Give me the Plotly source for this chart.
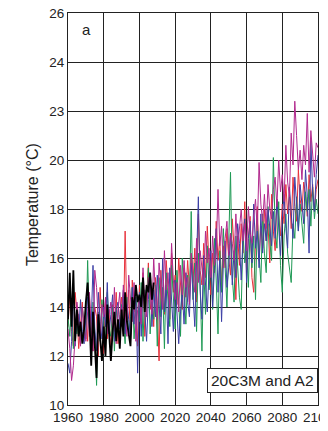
import plotly.graph_objects as go

years_model = list(range(1960, 2101))
years_obs = list(range(1960, 2009))

red = [
    13.2, 14.5, 13.0, 12.4, 14.6, 13.8, 12.3, 13.5, 14.2, 12.8,
    13.9, 12.6, 14.4, 13.1, 12.2, 14.0, 13.6, 12.0, 14.8, 13.3,
    12.1, 14.3, 12.7, 13.9, 11.9, 14.1, 13.0, 14.6, 12.5, 13.7,
    14.4, 12.9, 17.1, 13.4, 14.7, 12.6, 15.1, 13.8, 14.3, 12.4,
    14.9, 13.6, 15.4, 12.8, 14.2, 15.8, 13.9, 14.5, 13.2, 15.2,
    14.0, 11.8, 15.5, 14.3, 13.7, 15.9, 14.8, 13.5, 16.2, 14.6,
    15.3, 14.1, 16.0, 14.7, 13.9, 15.6, 14.4, 15.9, 14.8, 16.1,
    15.0, 16.4, 14.2, 17.8, 15.5, 14.9, 16.6, 15.2, 17.3, 15.7,
    14.5, 16.2, 15.4, 17.5, 15.9, 16.8, 14.8, 16.5, 15.6, 17.2,
    16.0, 15.3, 17.6, 16.4, 14.3, 16.9, 15.7, 17.4, 16.2, 18.3,
    15.5, 16.8, 17.7, 15.2, 14.6, 16.6, 18.1, 15.9, 17.3, 16.4,
    18.0, 16.7, 17.4, 15.8, 18.6, 17.1, 16.3, 18.4, 17.6, 16.9,
    18.2, 17.4, 19.0, 17.8, 18.7, 17.2, 19.3, 18.1, 17.5, 19.6,
    18.4, 17.9, 19.1, 18.6, 17.7, 19.4, 18.3, 19.0, 17.9, 18.8,
    19.2,
]

green = [
    13.6, 12.8, 14.1, 12.3, 13.4, 12.9, 13.7, 12.5, 14.0, 13.2,
    12.7, 15.9, 13.3, 12.1, 14.2, 13.0, 10.8, 13.8, 12.6, 14.3,
    13.5, 12.4, 14.6, 13.1, 12.8, 14.0, 12.2, 13.9, 13.4, 12.6,
    14.1, 13.3, 12.5, 14.4, 12.9, 13.6, 14.8, 12.7, 13.9, 14.5,
    13.4, 15.0, 12.6, 14.7, 13.8, 15.6, 12.9, 14.2, 13.5, 14.9,
    12.4, 15.2, 13.6, 14.8, 12.3, 15.4, 14.1, 13.2, 15.7, 14.4,
    13.1, 15.5, 14.0, 12.8, 16.0, 14.6, 13.3, 15.3, 14.2, 17.9,
    14.3, 15.8, 13.0, 16.2, 14.9, 12.2, 15.6, 13.7, 16.5, 14.7,
    15.9, 13.9, 16.8, 15.1, 12.9, 16.3, 14.6, 17.2, 15.4, 14.0,
    16.6, 19.5, 15.2, 14.2, 16.9, 15.5, 14.4, 13.9, 17.0, 15.8,
    16.4, 14.8, 17.3, 15.6, 16.9, 14.3, 17.6, 16.1, 15.0, 17.8,
    16.2, 15.4, 18.1, 16.7, 15.9, 20.1, 17.2, 16.4, 18.3, 15.7,
    14.6, 16.9, 17.8, 16.2, 15.6, 15.0, 17.4, 16.8, 18.5, 17.1,
    18.2, 17.5, 16.6, 18.7, 17.9, 18.8, 17.3, 18.9, 17.6, 18.4,
    17.8,
]

blue = [
    11.7, 11.3, 12.6, 14.9, 12.4, 13.8, 12.9, 14.3, 13.0, 12.5,
    13.6, 14.4, 12.8, 13.3, 15.7, 13.1, 12.2, 14.6, 13.4, 12.7,
    14.0, 13.2, 15.0, 12.9, 13.7, 14.5, 12.6, 13.9, 14.2, 13.1,
    13.8, 14.7, 12.9, 14.1, 13.5, 12.7, 14.8, 13.3, 14.4, 11.3,
    14.6, 12.8, 15.1, 13.9, 12.6, 14.3, 15.4, 13.2, 14.7, 13.6,
    15.3, 14.1, 12.9, 16.0, 13.8, 14.9, 12.5, 15.6, 14.3, 13.0,
    15.1, 14.0, 12.5, 13.8, 14.6, 13.3, 15.4, 14.2, 13.6, 15.8,
    14.4, 13.2, 15.9, 18.5, 14.7, 13.5, 16.1, 14.9, 13.8, 15.5,
    16.3, 14.0, 15.7, 17.2, 14.6, 16.0, 13.4, 15.8, 16.7, 14.8,
    15.6, 17.0, 14.9, 16.3, 15.2, 17.4, 16.6, 15.1, 16.9, 17.6,
    15.0, 16.8, 17.5, 15.8, 18.2, 16.4, 17.1, 15.6, 17.8, 16.2,
    17.4, 16.7, 18.0, 17.3, 16.5, 17.9, 16.8, 18.4, 17.0, 16.1,
    17.6, 18.6, 17.2, 16.4, 18.9, 17.7, 16.8, 19.3, 18.0, 17.1,
    19.0, 18.2, 17.4, 19.6, 18.5, 16.2, 20.8, 18.7, 17.9, 19.4,
    20.2,
]

magenta = [
    13.1, 12.3, 11.0, 11.6, 12.8, 14.2, 13.5, 12.4, 14.0, 13.3,
    12.6, 13.8, 14.6, 13.0, 12.2, 15.5, 14.8, 13.4, 12.7, 14.1,
    13.6, 14.4, 12.9, 13.7, 14.2, 13.0, 14.8, 12.5, 13.9, 14.6,
    13.2, 14.9, 13.7, 12.8, 15.3, 14.1, 13.4, 15.0, 12.6, 13.9,
    14.5, 13.3, 15.6, 14.2, 13.6, 15.2, 14.8, 13.7, 16.0, 14.4,
    13.5, 15.8, 14.6, 13.9, 16.3, 14.7, 15.4, 14.0, 16.6, 15.1,
    14.3, 15.0, 13.8, 15.7, 14.5, 15.9, 14.8, 15.2, 14.1, 16.2,
    15.4, 14.6, 16.8, 15.0, 16.3, 15.5, 14.9, 17.1, 15.8, 16.4,
    15.2, 16.9, 15.7, 16.2, 18.8, 16.5, 17.3, 15.6, 16.8, 17.5,
    16.1, 17.0, 16.6, 15.9, 17.8, 16.4, 17.2, 18.0, 16.7, 17.4,
    16.3, 18.1, 17.0, 16.6, 17.7, 18.4, 17.1, 19.9, 18.2, 17.5,
    18.6, 17.2, 19.0, 18.0, 17.6, 18.8, 19.3, 18.1, 20.0, 18.7,
    19.4, 18.3, 20.6, 19.1, 18.5, 21.1, 19.8, 22.4, 21.0, 19.6,
    20.4, 19.2, 20.6, 19.8, 21.9, 19.5, 21.2, 20.1, 19.3, 20.7,
    20.5,
]

observed = [
    13.5, 15.4, 13.2, 15.5, 12.6, 13.9, 12.8, 13.4, 12.5, 13.1,
    14.2, 15.0, 13.6, 11.6, 13.8, 12.4, 11.1, 13.7, 12.9, 11.8,
    13.2, 12.0, 14.1, 12.7, 11.8, 13.0, 13.8, 12.6, 13.5, 12.3,
    13.9, 12.8, 14.6, 13.4, 12.9, 12.4, 14.4, 13.9, 14.9, 14.2,
    14.5, 14.0, 15.2, 13.8, 14.9, 14.6, 15.4, 14.3, 15.0,
]

ytick_vals = [10, 12, 14, 16, 18, 20, 22, 24, 26]
ytick_text = ["10", "12", "14", "16", "18", "20", "23", "24", "26"]
xtick_vals = [1960, 1980, 2000, 2020, 2040, 2060, 2080, 2100]

fig = go.Figure()
series = [
    (red, "#e8303a"),
    (green, "#1f9a55"),
    (blue, "#3c3fa6"),
    (magenta, "#b22a8e"),
]
for vals, col in series:
    fig.add_trace(go.Scatter(x=years_model, y=vals, mode="lines",
                             line=dict(color=col, width=1), showlegend=False))
fig.add_trace(go.Scatter(x=years_obs, y=observed, mode="lines",
                         line=dict(color="#000000", width=1.8), showlegend=False))

# page body has an 8px default margin, so the figure is sized to fit the window
fig.update_layout(
    width=320, height=423,
    margin=dict(l=60, r=10, t=5, b=26),
    paper_bgcolor="white", plot_bgcolor="white",
    font=dict(family="Liberation Sans, Arial, sans-serif", size=13.5, color="#222"),
    xaxis=dict(range=[1960, 2100], tickvals=xtick_vals, showgrid=True,
               gridcolor="#222", gridwidth=1, showline=True, linecolor="#222",
               linewidth=1, mirror=True, ticks="", zeroline=False,
               automargin=False, ticklabeloverflow="allow",
               tickfont=dict(size=13.5)),
    yaxis=dict(range=[10, 26], tickvals=ytick_vals, ticktext=ytick_text,
               showgrid=True, gridcolor="#222", gridwidth=1, showline=True,
               linecolor="#222", linewidth=1, mirror=True, ticks="",
               zeroline=False, automargin=False, ticklabeloverflow="allow",
               tickfont=dict(size=13.5)),
    annotations=[
        dict(x=-0.144, y=0.51, xref="paper", yref="paper",
             text="Temperature (°C)", textangle=-90, showarrow=False,
             font=dict(size=16, color="#222"), xanchor="center", yanchor="middle"),
        dict(x=0.072, y=0.959, xref="paper", yref="paper", text="a",
             showarrow=False, font=dict(size=15, color="#222"),
             xanchor="center", yanchor="middle"),
        dict(x=1.0, y=0.031, xref="paper", yref="paper", text="20C3M and A2",
             showarrow=False, font=dict(size=15.5, color="#222"),
             xanchor="right", yanchor="bottom", bgcolor="white",
             bordercolor="#222", borderwidth=1, borderpad=3),
    ],
)

fig.write_html("out.html")
